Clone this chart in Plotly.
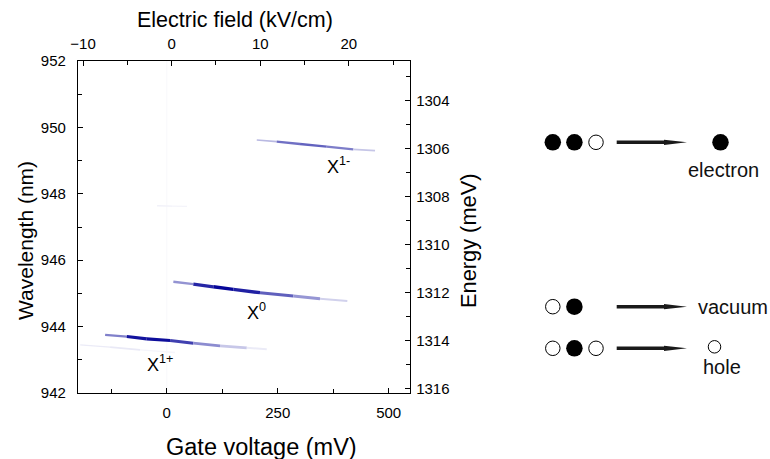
import plotly.graph_objects as go

# ---------------- data ----------------
voltage_range = [-200, 548]          # mV, bottom axis
field_range = [-10.57, 26.9]         # kV/cm, top axis
wavelength_range = [942, 952]        # nm, left axis
energy_range = [1239841.98 / 942, 1239841.98 / 952]  # meV, right axis (reversed)

# emission lines: gate voltage (mV), wavelength (nm), relative intensity
x1m_v = [202.7, 247.7, 300.2, 360.4, 420.3, 469.2]
x1m_wl = [949.62, 949.57, 949.50, 949.42, 949.34, 949.30]
x1m_int = [0.05, 0.50, 0.62, 0.60, 0.42, 0.03]

x0_v = [14.9, 59.9, 105.0, 150.0, 210.1, 285.1, 345.3, 406.8]
x0_wl = [945.35, 945.28, 945.20, 945.12, 945.02, 944.92, 944.84, 944.77]
x0_int = [0.10, 0.75, 0.95, 1.00, 0.75, 0.50, 0.32, 0.04]

x1p_v = [-138.9, -90.1, -45.0, 7.4, 59.9, 120.0, 180.2, 225.2]
x1p_wl = [943.75, 943.70, 943.63, 943.58, 943.50, 943.42, 943.36, 943.32]
x1p_int = [0.15, 0.85, 1.00, 0.90, 0.60, 0.30, 0.14, 0.02]

faint_v = [-195.0, -127.7, -60.0, 18.7]
faint_wl = [943.45, 943.38, 943.30, 943.22]
faint_int = [0.06, 0.10, 0.07, 0.01]

spot_v = [-21.8, 12.0, 45.7]
spot_wl = [947.64, 947.63, 947.62]
spot_int = [0.04, 0.07, 0.02]

line_labels = ["X<sup>1-</sup>", "X<sup>0</sup>", "X<sup>1+</sup>"]
label_v = [356, 176, -49]
label_wl = [948.84, 944.44, 942.90]

# schematic of charge states
schem_initial = [["filled", "filled", "open"], ["open", "filled"], ["open", "filled", "open"]]
schem_final = ["filled", None, "small"]
schem_labels = ["electron", "vacuum", "hole"]

# ---------------- layout geometry (pixels) ----------------
W, H = 770, 459
PL, PR, PT, PB = 78, 410, 61, 393
FONT = "Liberation Sans, Arial, sans-serif"

fig = go.Figure()


def blend(i):
    r = int(round(255 * (1 - i)))
    b = int(round(255 - (255 - 150) * i))
    return f"rgb({r},{r},{b})"


def add_feature(vs, wls, ints, wmax):
    n = len(vs) - 1
    for k in range(n):
        a = 0.5 * (ints[k] + ints[k + 1])
        w = wmax * (0.75 + 0.25 * a)
        if k == 0 or k == n - 1:
            w *= 0.8
        fig.add_trace(go.Scatter(
            x=[vs[k], vs[k + 1]], y=[wls[k], wls[k + 1]], mode="lines",
            line=dict(color=blend(a), width=w),
            hoverinfo="skip", showlegend=False, xaxis="x", yaxis="y"))


# faint vertical artefact at 0 mV
fig.add_trace(go.Scatter(x=[0, 0], y=wavelength_range, mode="lines",
                         line=dict(color="rgb(248,248,251)", width=1),
                         hoverinfo="skip", showlegend=False))
add_feature(faint_v, faint_wl, faint_int, 2.2)
add_feature(spot_v, spot_wl, spot_int, 2.2)
add_feature(x1m_v, x1m_wl, x1m_int, 2.6)
add_feature(x0_v, x0_wl, x0_int, 3.4)
add_feature(x1p_v, x1p_wl, x1p_int, 3.2)

# dummy trace so secondary axes are drawn
fig.add_trace(go.Scatter(x=[field_range[0]], y=[energy_range[0]], mode="markers",
                         marker=dict(opacity=0), hoverinfo="skip", showlegend=False,
                         xaxis="x2", yaxis="y2"))

for txt, v, wl in zip(line_labels, label_v, label_wl):
    fig.add_annotation(x=v, y=wl, xref="x", yref="y", text=txt, showarrow=False,
                       xanchor="left", yanchor="middle",
                       font=dict(family=FONT, size=18, color="black"))

# ---------------- schematic (pixel coordinate overlay axes) ----------------
row_y = [142.3, 306.7, 348.3]
circ_x0, circ_dx = 552.8, 21.6
fx, fy, ox, oy = [], [], [], []
for r, parts in enumerate(schem_initial):
    for i, p in enumerate(parts):
        if p == "filled":
            fx.append(circ_x0 + i * circ_dx); fy.append(row_y[r])
        else:
            ox.append(circ_x0 + i * circ_dx); oy.append(row_y[r])
    # arrow
    y = row_y[r]
    fig.add_shape(type="path", xref="x3", yref="y3",
                  path=(f"M 616.7 {y-1.8} L 664 {y-1.8} L 664 {y-2.6} L 687 {y} "
                        f"L 664 {y+2.6} L 664 {y+1.8} L 616.7 {y+1.8} Z"),
                  fillcolor="#1a1a1a", line=dict(width=0))
    fin = schem_final[r]
    if fin == "filled":
        fx.append(720.5); fy.append(y)
    elif fin == "small":
        fig.add_trace(go.Scatter(x=[714.5], y=[y - 1.5], mode="markers", xaxis="x3", yaxis="y3",
                                 marker=dict(symbol="circle", size=12.5, color="white",
                                             line=dict(color="black", width=1)),
                                 hoverinfo="skip", showlegend=False))

fig.add_trace(go.Scatter(x=fx, y=fy, mode="markers", xaxis="x3", yaxis="y3",
                         marker=dict(symbol="circle", size=16.5, color="black", line=dict(width=0)),
                         hoverinfo="skip", showlegend=False))
fig.add_trace(go.Scatter(x=ox, y=oy, mode="markers", xaxis="x3", yaxis="y3",
                         marker=dict(symbol="circle", size=14.5, color="white",
                                     line=dict(color="black", width=1)),
                         hoverinfo="skip", showlegend=False))

label_pos = [(723, 170, "center"), (696, 306.5, "left"), (722, 366.5, "center")]
for txt, (x, y, xa) in zip(schem_labels, label_pos):
    fig.add_annotation(x=x, y=y, xref="x3", yref="y3", text=txt, showarrow=False,
                       xanchor=xa, yanchor="middle",
                       font=dict(family=FONT, size=20, color="#111"))

# axis titles (pixel coords)
titles = [("Electric field (kV/cm)", 235, 19.5, 0, 21.5), ("Gate voltage (mV)", 261.5, 447, 0, 23.5),
          ("Wavelength (nm)", 25, 241, -90, 21), ("Energy (meV)", 468, 241, -90, 21.8)]
for txt, x, y, ang, fs in titles:
    fig.add_annotation(x=x, y=y, xref="x3", yref="y3", text=txt, showarrow=False,
                       xanchor="center", yanchor="middle", textangle=ang,
                       font=dict(family=FONT, size=fs, color="black"))

# ---------------- axes ----------------
axis_common = dict(showline=True, linecolor="black", linewidth=1.3, ticks="inside",
                   ticklen=5, tickwidth=1.2, tickcolor="black", showgrid=False, zeroline=False,
                   tickfont=dict(family=FONT, size=15, color="black"), automargin=False)
minor = dict(ticks="inside", ticklen=4, tickwidth=1.2, tickcolor="black", showgrid=False)

xd = [PL / W, PR / W]
yd = [(H - PB) / H, (H - PT) / H]

fig.update_layout(
    width=W, height=H, margin=dict(l=0, r=0, t=0, b=0),
    paper_bgcolor="white", plot_bgcolor="rgba(0,0,0,0)", showlegend=False,
    xaxis=dict(axis_common, domain=xd, range=voltage_range, tickmode="linear", tick0=0, dtick=250,
               minor=dict(minor, dtick=125, tick0=0), anchor="y", ticklabelstandoff=6),
    yaxis=dict(axis_common, domain=yd, range=wavelength_range, tickmode="linear", tick0=942, dtick=2,
               minor=dict(minor, dtick=1, tick0=942), anchor="x", ticklabelstandoff=8),
    xaxis2=dict(axis_common, domain=xd, range=field_range, tickmode="linear", tick0=0, dtick=10,
                minor=dict(minor, dtick=5, tick0=0), overlaying="x", side="top", anchor="y",
                ticklabelstandoff=5),
    yaxis2=dict(axis_common, domain=yd, range=energy_range, tickmode="linear", tick0=1304, dtick=2,
                minor=dict(minor, dtick=1, tick0=1304), overlaying="y", side="right", anchor="x",
                ticklabelstandoff=2),
    xaxis3=dict(domain=[0, 1], range=[0, W], visible=False, anchor="y3", fixedrange=True),
    yaxis3=dict(domain=[0, 1], range=[H, 0], visible=False, anchor="x3", fixedrange=True),
)

fig.write_html("out.html")
